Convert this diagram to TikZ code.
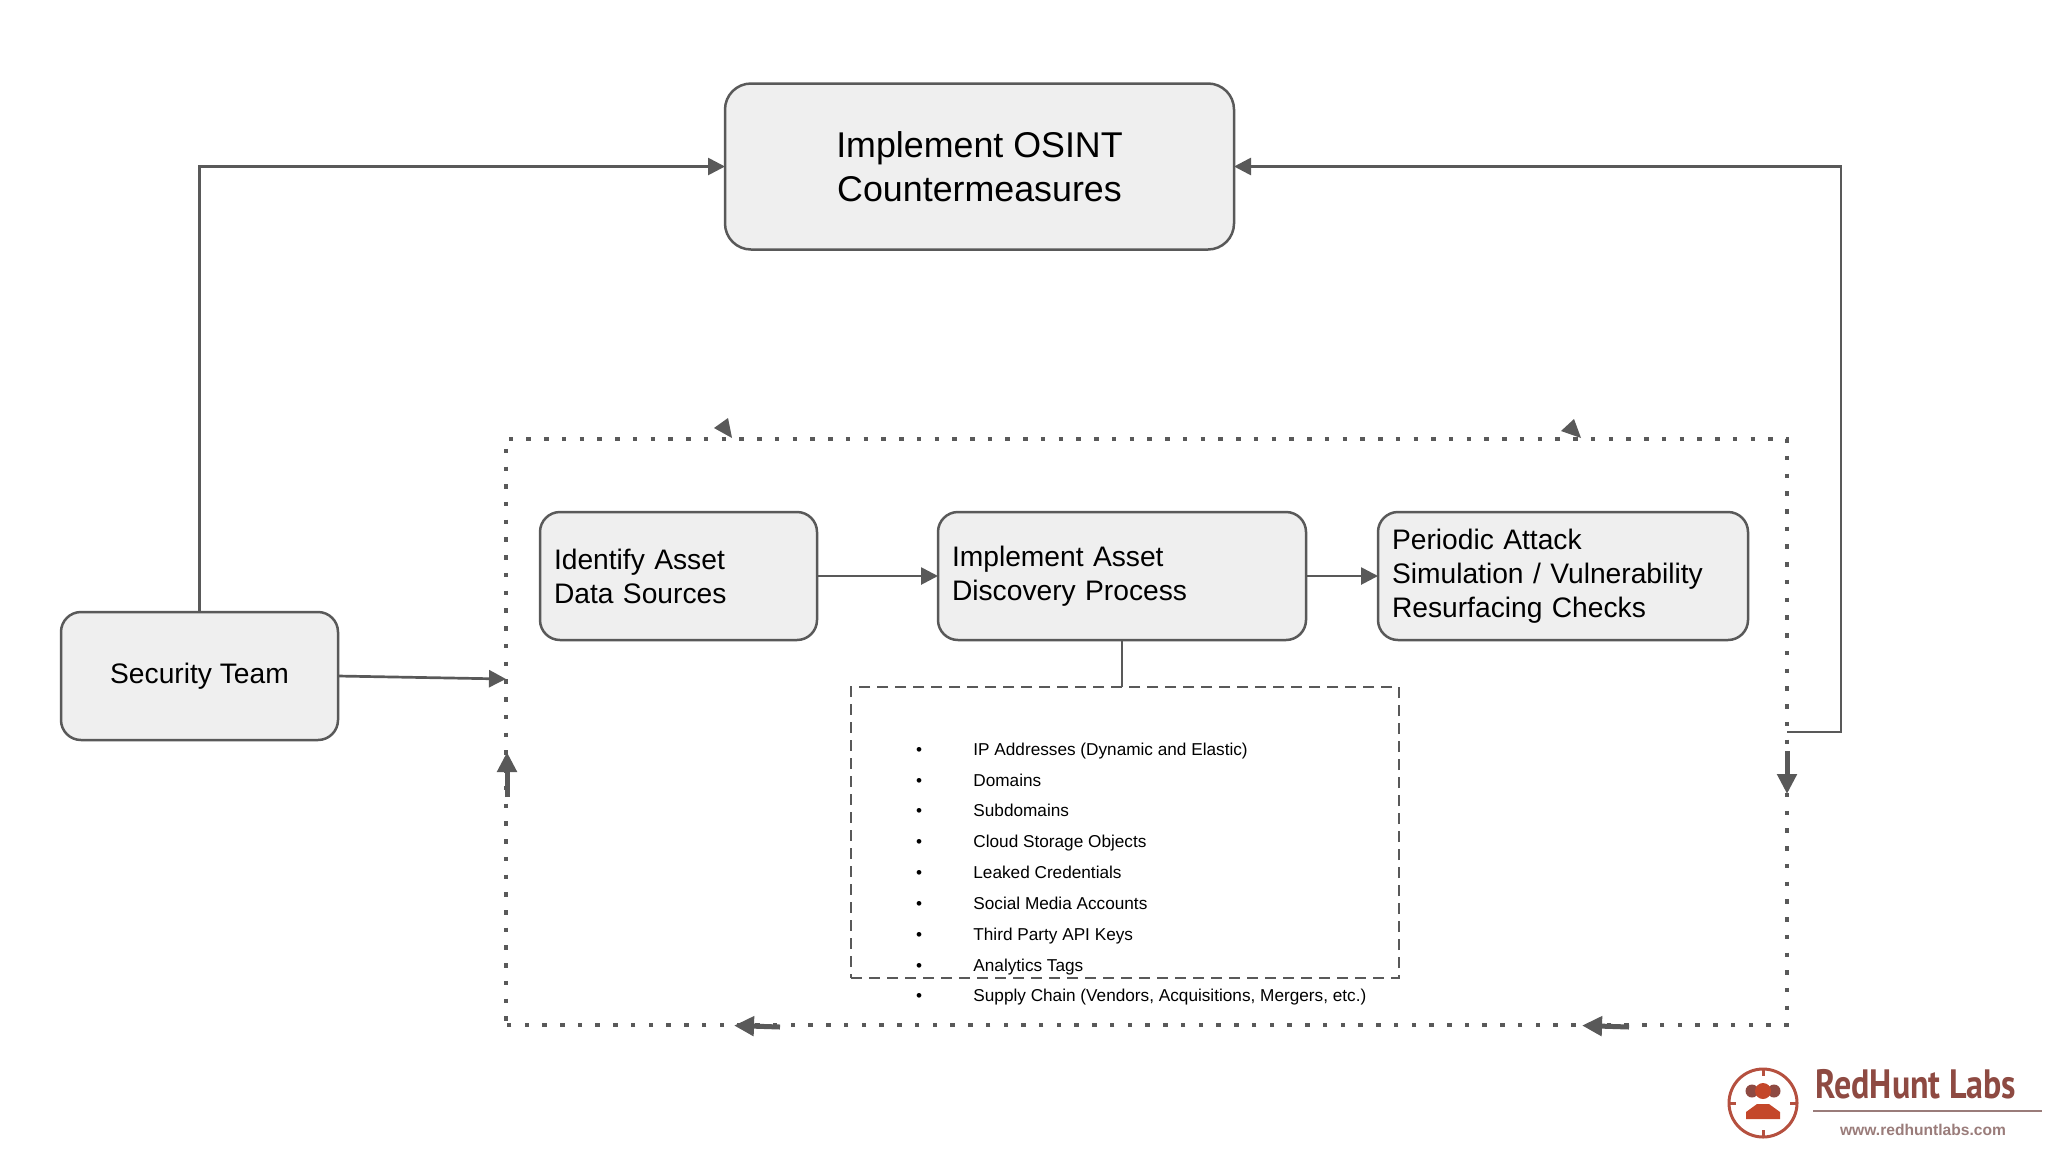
\documentclass[tikz,border=0pt]{standalone}
\usepackage{fontspec}
\setmainfont{Liberation Sans}
\newfontfamily\logofont{PT Sans}
\usetikzlibrary{arrows.meta,calc}
\definecolor{ink}{HTML}{595959}
\definecolor{boxfill}{HTML}{EFEFEF}
\definecolor{logoring}{HTML}{B5503F}
\definecolor{logotext}{HTML}{8E4A42}
\definecolor{logofig}{HTML}{C4472A}
\definecolor{logorule}{HTML}{9A7C7A}
\tikzset{
  x=0.5pt,y=-0.5pt,
  box/.style={draw=ink,fill=boxfill,line width=1.25pt,rounded corners=10pt,outer sep=0pt,inner sep=0pt,align=left},
  sidebox/.style={box,font=\fontsize{14.1}{17}\selectfont},
  link/.style={draw=ink,line width=1.35pt,-{Triangle[length=8.5pt,width=8.5pt]}},
  plainlink/.style={draw=ink,line width=1.35pt},
  dotline/.style={draw=ink,line width=2.25pt,dash pattern=on 2.25pt off 6.62pt},
  bold/.style={draw=ink,line width=2.5pt,-{Triangle[length=10pt,width=9.5pt]}},
  item/.style={anchor=base west,inner sep=0pt,font=\fontsize{8.6}{10}\selectfont},
  bullet/.style={anchor=base,inner sep=0pt,font=\fontsize{8.6}{10}\selectfont},
}
\begin{document}
\begin{tikzpicture}
\useasboundingbox (0,0) rectangle (2048,1152);
% nodes
\node[box,rounded corners=13pt,minimum width=254.5pt,minimum height=83pt,align=center,font=\fontsize{17.9}{22.2}\selectfont] (top) at (979.5,166.5) {Implement OSINT\\Countermeasures};
\node[sidebox,minimum width=138.5pt,minimum height=64pt,text width=124.5pt] (src) at (678.5,576) {Identify Asset\\Data Sources};
\node[sidebox,minimum width=184pt,minimum height=64pt,text width=170pt] (disc) at (1122,576) {Implement Asset\\Discovery Process};
\node[sidebox,minimum width=185pt,minimum height=64pt,text width=171pt] (check) at (1563,576) {Periodic Attack\\Simulation / Vulnerability\\Resurfacing Checks};
\node[sidebox,minimum width=138.5pt,minimum height=64pt,align=center] (team) at (199.5,676) {Security Team};
% dashed list box
\node[draw=ink,line width=1pt,dash pattern=on 5.5pt off 3.5pt,minimum width=274pt,minimum height=145.5pt,inner sep=0pt,outer sep=0pt] (list) at (1125,832.5) {};
% list
\foreach \y/\t in {750/IP Addresses (Dynamic and Elastic),781/Domains,811.5/Subdomains,842.5/Cloud Storage Objects,873.5/Leaked Credentials / API Keys / etc.,904/Social Media Accounts,935/Third Party API Keys,966/Analytics Tags,996.5/{Supply Chain (Vendors, Acquisitions, Mergers, etc.)}}{
  \node[bullet] at (919,\y+5) {•};
  \node[item] at (973,\y+5) {\t};
}
% dotted loop
\coordinate (tl) at (506,439);
\coordinate (tr) at (1787,439);
\coordinate (br) at (1787,1025);
\coordinate (bl) at (506,1025);
\draw[dotline] (508.75,439) -- (tr) -- (br) -- (bl);
\draw[dotline] (506,448.75) -- (bl);
% connectors
\coordinate (frameIn) at (506,679);
\coordinate (frameOut) at (1787,732);
\coordinate (rightUp) at (1841,732);
\draw[link] (team.east) -- (frameIn);
\draw[link] (team.north) |- (top.west);
\draw[link] (frameOut) -- (rightUp) |- (top.east);
\draw[link] (src) -- (disc);
\draw[link] (disc) -- (check);
\draw[plainlink] (disc.south) -- (disc.south |- list.north);
% loop arrows
\fill[ink] (714,428) -- (728,418) -- (732,438) -- cycle;
\fill[ink] (1561,431) -- (1574,419) -- (1581,438) -- cycle;
\coordinate (a1s) at (507,797); \coordinate (a1e) at (507,752);
\draw[bold] (a1s) -- (a1e);
\coordinate (a2s) at (1787,751); \coordinate (a2e) at (1787,794);
\draw[bold] (a2s) -- (a2e);
\coordinate (a3s) at (1629,1027); \coordinate (a3e) at (1582,1025.5);
\draw[bold] (a3s) -- (a3e);
\coordinate (a4s) at (780,1027); \coordinate (a4e) at (734,1025.5);
\draw[bold] (a4s) -- (a4e);
% logo
\draw[logoring,line width=1.5pt] (1763,1103) circle (34);
\foreach \a in {0,90,180,270}{
  \draw[logoring,line width=1.5pt] (1763,1103) ++(\a:-34) -- ++(\a:7);
  \draw[logoring,line width=1.5pt] (1763,1103) ++(\a:34) -- ++(\a:-7);
}
\fill[logotext] (1752,1091) circle (6.5);
\fill[logotext] (1774,1091) circle (6.5);
\fill[logofig] (1763,1091) circle (8);
\fill[logofig] (1746,1119) -- (1746,1112) -- (1757,1104) -- (1769,1104) -- (1780,1112) -- (1780,1119) -- cycle;
\node[anchor=base west,inner sep=0pt,text=logotext,font=\logofont\bfseries\fontsize{20.5}{24}\selectfont,xscale=0.83] at (1815,1098) {RedHunt Labs};
\fill[logorule] (1813,1109.5) rectangle (2042,1112);
\node[anchor=base,inner sep=0pt,text=logorule,font=\bfseries\fontsize{7.8}{9}\selectfont] at (1923,1135) {www.redhuntlabs.com};
\end{tikzpicture}
\end{document}
